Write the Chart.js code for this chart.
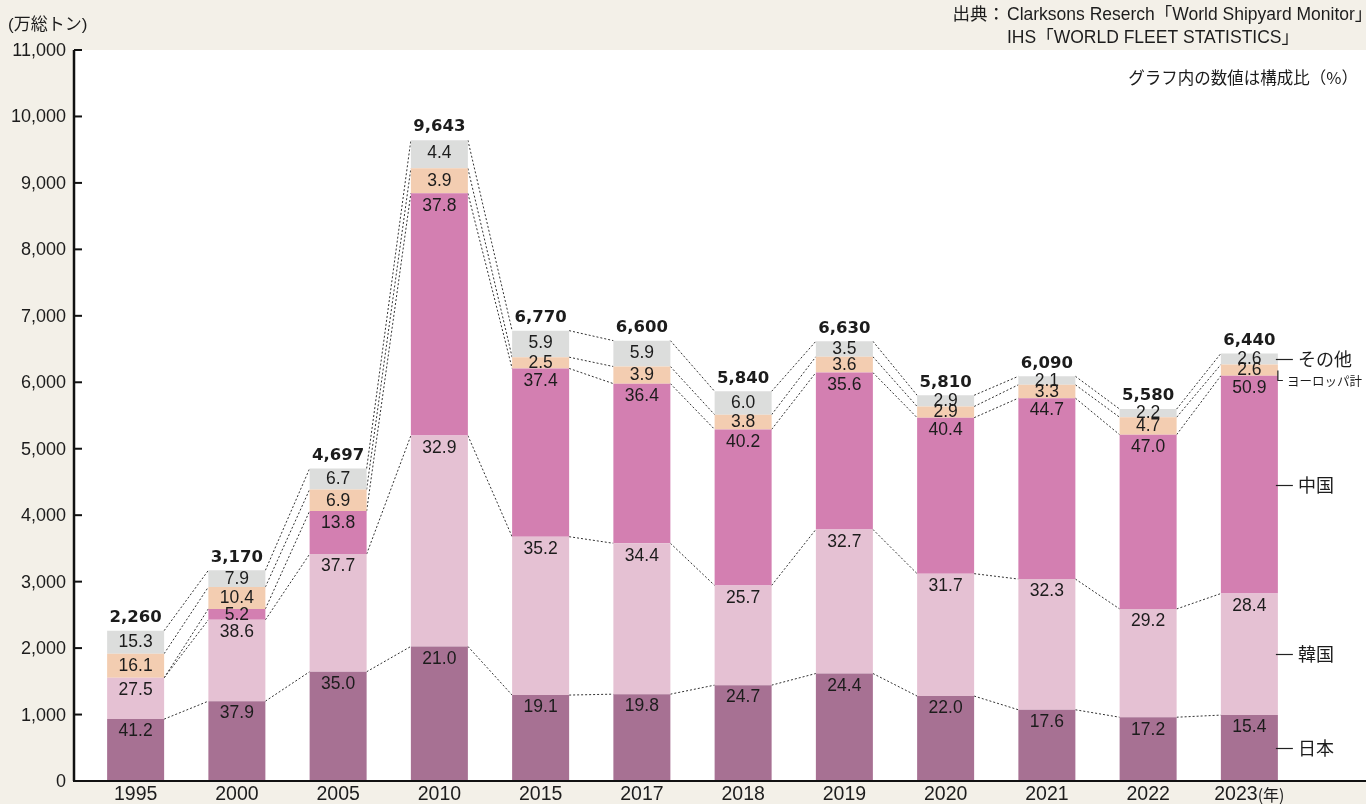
<!DOCTYPE html>
<html lang="ja">
<head>
<meta charset="utf-8">
<title>世界の竣工量の推移</title>
<script src="https://cdn.jsdelivr.net/npm/chart.js@4.4.1/dist/chart.umd.min.js"></script>
<style>
  html, body { margin: 0; padding: 0; background: #f3f0e8; overflow: hidden; }
  #wrap { width: 1366px; height: 804px; }
  canvas { display: block; }
</style>
</head>
<body>
<div id="wrap"><canvas id="c" width="1366" height="804"></canvas></div>
<script>
// 竣工量の合計（万総トン）と国・地域別の構成比（%）
const years = ['1995', '2000', '2005', '2010', '2015', '2017', '2018', '2019', '2020', '2021', '2022', '2023'];
const totals = [2260, 3170, 4697, 9643, 6770, 6600, 5840, 6630, 5810, 6090, 5580, 6440];
const japanPct  = [41.2, 37.9, 35.0, 21.0, 19.1, 19.8, 24.7, 24.4, 22.0, 17.6, 17.2, 15.4];
const koreaPct  = [27.5, 38.6, 37.7, 32.9, 35.2, 34.4, 25.7, 32.7, 31.7, 32.3, 29.2, 28.4];
const chinaPct  = [0, 5.2, 13.8, 37.8, 37.4, 36.4, 40.2, 35.6, 40.4, 44.7, 47.0, 50.9];
const europePct = [16.1, 10.4, 6.9, 3.9, 2.5, 3.9, 3.8, 3.6, 2.9, 3.3, 4.7, 2.6];
const otherPct  = [15.3, 7.9, 6.7, 4.4, 5.9, 5.9, 6.0, 3.5, 2.9, 2.1, 2.2, 2.6];
const seriesNames = ['日本', '韓国', '中国', 'ヨーロッパ計', 'その他'];
const yTickStep = 1000;
const yMax = 11000;

const pctSeries = [japanPct, koreaPct, chinaPct, europePct, otherPct];
const colors = ['#a77193', '#e5c1d3', '#d37fb1', '#f3cdb1', '#dcdddc'];

const LATIN = '"Liberation Sans", Arial, "Noto Sans CJK JP", sans-serif';
const BOLD = '"DejaVu Sans", "Liberation Sans", sans-serif';
const CJK = '"Noto Sans CJK JP", sans-serif';
const TEXT = '#1c1c1c';

// 構成比から各区分の量（万総トン）を求める
const tonnage = pctSeries.map(p => p.map((v, i) => totals[i] * v / 100));

const datasets = seriesNames.map((name, k) => ({
  label: name,
  data: tonnage[k],
  backgroundColor: colors[k],
  borderWidth: 0,
  stack: 's',
  barPercentage: 0.563,
  categoryPercentage: 1.0
}));

function cumulative(i, k) {
  let s = 0;
  for (let j = 0; j < k; j++) s += tonnage[j][i];
  return s;
}

const panelPlugin = {
  id: 'panel',
  beforeDraw(chart) {
    const { ctx, chartArea, width, height } = chart;
    ctx.save();
    ctx.fillStyle = '#f3f0e8';
    ctx.fillRect(0, 0, width, height);
    ctx.fillStyle = '#ffffff';
    ctx.fillRect(chartArea.left - 11, chartArea.top, width - (chartArea.left - 11), chartArea.bottom - chartArea.top);
    ctx.restore();
  }
};

const connectorPlugin = {
  id: 'connectors',
  beforeDatasetsDraw(chart) {
    const { ctx } = chart;
    const y = chart.scales.y;
    const bars = chart.getDatasetMeta(0).data;
    ctx.save();
    ctx.strokeStyle = '#333';
    ctx.lineWidth = 1;
    ctx.setLineDash([2, 2]);
    for (let i = 0; i < bars.length - 1; i++) {
      const a = bars[i], b = bars[i + 1];
      const x1 = a.x + a.width / 2, x2 = b.x - b.width / 2;
      for (let k = 1; k <= 5; k++) {
        ctx.beginPath();
        ctx.moveTo(x1, y.getPixelForValue(cumulative(i, k)));
        ctx.lineTo(x2, y.getPixelForValue(cumulative(i + 1, k)));
        ctx.stroke();
      }
    }
    ctx.restore();
  }
};

const labelPlugin = {
  id: 'segLabels',
  afterDatasetsDraw(chart) {
    const { ctx } = chart;
    const yS = chart.scales.y;
    ctx.save();
    ctx.textAlign = 'center';
    ctx.textBaseline = 'middle';
    ctx.fillStyle = TEXT;
    // 構成比
    ctx.font = '17.5px ' + LATIN;
    pctSeries.forEach((pcts, k) => {
      const meta = chart.getDatasetMeta(k);
      meta.data.forEach((el, i) => {
        if (!pcts[i]) return;
        const h = el.base - el.y;
        ctx.fillText(pcts[i].toFixed(1), el.x, el.y + Math.min(12, h / 2) + 0.5);
      });
    });
    // 合計
    ctx.font = 'bold 16.5px ' + BOLD;
    const bars = chart.getDatasetMeta(0).data;
    bars.forEach((el, i) => {
      const top = yS.getPixelForValue(cumulative(i, 5));
      ctx.fillText(totals[i].toLocaleString('en-US'), el.x, top - 13);
    });
    // 凡例（最終年の各区分の横）
    const last = bars.length - 1;
    const el = bars[last];
    const xr = el.x + el.width / 2;
    const mid = k => yS.getPixelForValue((cumulative(last, k) + cumulative(last, k + 1)) / 2);
    ctx.strokeStyle = '#222';
    ctx.lineWidth = 1.2;
    ctx.setLineDash([]);
    ctx.textAlign = 'left';
    [0, 1, 2, 4].forEach(k => {
      const yy = Math.round(mid(k)) + 0.5;
      ctx.beginPath();
      ctx.moveTo(xr - 2, yy);
      ctx.lineTo(xr + 15, yy);
      ctx.stroke();
      ctx.font = '18px ' + CJK;
      ctx.fillText(seriesNames[k], xr + 20, yy);
    });
    const ye = Math.round(mid(3)) + 0.5;
    ctx.beginPath();
    ctx.moveTo(xr, ye);
    ctx.lineTo(xr, ye + 10);
    ctx.lineTo(xr + 5, ye + 10);
    ctx.stroke();
    ctx.font = '12.5px ' + CJK;
    ctx.fillText(seriesNames[3], xr + 9, ye + 11);
    ctx.restore();
  },
  afterDraw(chart) {
    const { ctx, chartArea, width } = chart;
    const yS = chart.scales.y;
    const xS = chart.scales.x;
    const ax = chartArea.left - 11;
    ctx.save();
    // 軸線と目盛り
    ctx.strokeStyle = '#111';
    ctx.lineWidth = 2.5;
    ctx.beginPath();
    ctx.moveTo(ax, chartArea.top);
    ctx.lineTo(ax, chartArea.bottom);
    ctx.stroke();
    ctx.lineWidth = 2;
    yS.ticks.forEach(t => {
      const yy = yS.getPixelForValue(t.value);
      ctx.beginPath();
      ctx.moveTo(ax, yy);
      ctx.lineTo(ax + 8, yy);
      ctx.stroke();
    });
    ctx.beginPath();
    ctx.moveTo(ax - 1, chartArea.bottom);
    ctx.lineTo(width, chartArea.bottom);
    ctx.stroke();

    // 目盛りラベル
    ctx.fillStyle = TEXT;
    ctx.textBaseline = 'middle';
    ctx.textAlign = 'right';
    ctx.font = '18px ' + LATIN;
    yS.ticks.forEach(t => {
      ctx.fillText(t.value.toLocaleString('en-US'), ax - 8, yS.getPixelForValue(t.value) + 1);
    });
    ctx.textAlign = 'center';
    const ly = chartArea.bottom + 14;
    xS.ticks.forEach((t, i) => {
      const x = xS.getPixelForTick(i);
      const lbl = xS.getLabelForValue(t.value);
      ctx.font = '19.5px ' + LATIN;
      if (i === xS.ticks.length - 1) {
        const w = ctx.measureText(lbl).width;
        ctx.font = '16px ' + CJK;
        const w2 = ctx.measureText('(年)').width;
        const start = x - (w + w2) / 2;
        ctx.textAlign = 'left';
        ctx.font = '19.5px ' + LATIN;
        ctx.fillText(lbl, start, ly);
        ctx.font = '16px ' + CJK;
        ctx.fillText('(年)', start + w, ly);
        ctx.textAlign = 'center';
      } else {
        ctx.fillText(lbl, x, ly);
      }
    });

    // 単位・出典・注記
    ctx.textAlign = 'left';
    ctx.font = '17px ' + LATIN;
    ctx.fillText('(万総トン)', 8, 25);
    ctx.font = '17.5px ' + LATIN;
    ctx.fillText('Clarksons Reserch「World Shipyard Monitor」', 1007, 15);
    ctx.fillText('IHS「WORLD FLEET STATISTICS」', 1007, 38);
    ctx.textAlign = 'right';
    ctx.fillText('出典：', 1005, 15);
    ctx.font = '16.5px ' + CJK;
    ctx.fillText('グラフ内の数値は構成比（%）', 1358, 78);
    ctx.restore();
  }
};

new Chart(document.getElementById('c'), {
  type: 'bar',
  data: { labels: years, datasets },
  options: {
    responsive: false,
    devicePixelRatio: 1,
    animation: false,
    layout: { padding: { top: 50, right: 66, bottom: 0, left: 0 } },
    plugins: { legend: { display: false }, tooltip: { enabled: false } },
    scales: {
      x: {
        stacked: true,
        grid: { display: false },
        border: { display: false },
        ticks: { display: false, autoSkip: false },
        afterFit(s) { s.height = 23; }
      },
      y: {
        stacked: true,
        min: 0,
        max: yMax,
        grid: { display: false },
        border: { display: false },
        ticks: { display: false, stepSize: yTickStep },
        afterFit(s) { s.width = 85; }
      }
    }
  },
  plugins: [panelPlugin, connectorPlugin, labelPlugin]
});
</script>
</body>
</html>
